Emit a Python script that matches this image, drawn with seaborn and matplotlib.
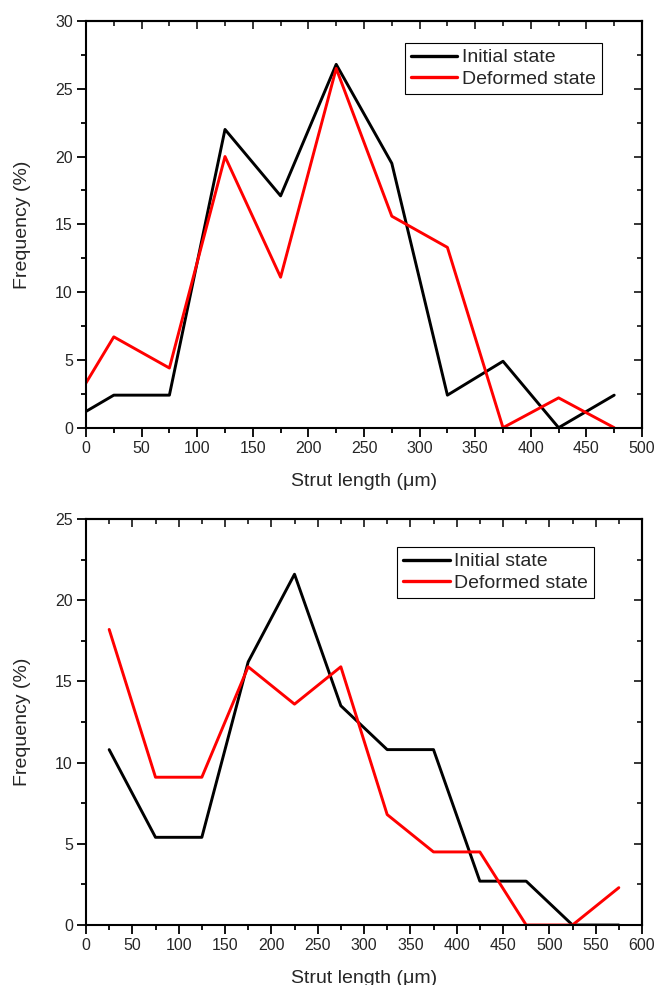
import pandas as pd
import matplotlib
matplotlib.use("Agg")
import matplotlib.pyplot as plt
import matplotlib.ticker as mtick
import seaborn as sns

# Data (strut length bins in um, frequency in %)
top_length = [0, 25, 75, 125, 175, 225, 275, 325, 375, 425, 475]
top_initial = [1.2, 2.4, 2.4, 22.0, 17.1, 26.8, 19.5, 2.4, 4.9, 0.0, 2.4]
top_deformed = [3.3, 6.7, 4.4, 20.0, 11.1, 26.5, 15.6, 13.3, 0.0, 2.2, 0.0]

bottom_length = [25, 75, 125, 175, 225, 275, 325, 375, 425, 475, 525, 575]
bottom_initial = [10.8, 5.4, 5.4, 16.2, 21.6, 13.5, 10.8, 10.8, 2.7, 2.7, 0.0, 0.0]
bottom_deformed = [18.2, 9.1, 9.1, 15.9, 13.6, 15.9, 6.8, 4.5, 4.5, 0.0, 0.0, 2.3]

states = ["Initial state", "Deformed state"]
colors = {"Initial state": "black", "Deformed state": "#ff0000"}

sns.set_theme(style="ticks")
plt.rcParams['font.family'] = ['Liberation Sans', 'DejaVu Sans']


def make_df(length, initial, deformed):
    a = pd.DataFrame({"length": length, "freq": initial, "state": states[0]})
    b = pd.DataFrame({"length": length, "freq": deformed, "state": states[1]})
    return pd.concat([a, b], ignore_index=True)


def style_axis(ax, xmax, ymax, legend_anchor):
    ax.set_xlim(0, xmax)
    ax.set_ylim(0, ymax)
    ax.xaxis.set_major_locator(mtick.MultipleLocator(50))
    ax.xaxis.set_minor_locator(mtick.MultipleLocator(25))
    ax.yaxis.set_major_locator(mtick.MultipleLocator(5))
    ax.yaxis.set_minor_locator(mtick.MultipleLocator(2.5))
    for side in ["top", "right", "bottom", "left"]:
        ax.spines[side].set_visible(True)
        ax.spines[side].set_linewidth(1.5)
        ax.spines[side].set_color("black")
    ax.tick_params(which="both", direction="out", top=False, right=False,
                   color="black", width=1.3)
    ax.tick_params(which="major", length=6.5, labelsize=11.5, pad=3)
    ax.tick_params(which="minor", length=3.6)
    # Origin style: mirrored top/right ticks point inward
    sec_x = ax.secondary_xaxis("top")
    sec_x.xaxis.set_major_locator(mtick.MultipleLocator(50))
    sec_x.xaxis.set_minor_locator(mtick.MultipleLocator(25))
    sec_x.tick_params(which="both", direction="in", labeltop=False, width=1.3)
    sec_x.tick_params(which="major", length=6)
    sec_x.tick_params(which="minor", length=3.5)
    sec_x.spines["top"].set_linewidth(1.5)
    sec_y = ax.secondary_yaxis("right")
    sec_y.yaxis.set_major_locator(mtick.MultipleLocator(5))
    sec_y.yaxis.set_minor_locator(mtick.MultipleLocator(2.5))
    sec_y.tick_params(which="both", direction="in", labelright=False, width=1.3)
    sec_y.tick_params(which="major", length=6)
    sec_y.tick_params(which="minor", length=3.5)
    sec_y.spines["right"].set_linewidth(1.5)

    ax.set_xlabel("Strut length (\u03bcm)", fontsize=14, labelpad=12)
    ax.set_ylabel("Frequency (%)", fontsize=14, labelpad=17)

    leg = ax.legend(loc="upper right", bbox_to_anchor=legend_anchor, fontsize=14,
                    frameon=True, fancybox=False, framealpha=1, edgecolor="black",
                    handlelength=2.4, handletextpad=0.25, borderpad=0.3,
                    labelspacing=0.2, borderaxespad=0)
    leg.get_frame().set_linewidth(0.8)
    for line in leg.get_lines():
        line.set_linewidth(2.4)


fig = plt.figure(figsize=(6.58, 9.85), dpi=100)
ax1 = fig.add_axes([0.1307, 0.5658, 0.845, 0.4129])
ax2 = fig.add_axes([0.1307, 0.0609, 0.845, 0.4122])

sns.lineplot(data=make_df(top_length, top_initial, top_deformed), x="length", y="freq",
             hue="state", hue_order=states, palette=colors, linewidth=2.1, ax=ax1)
style_axis(ax1, 500, 30, (0.928, 0.946))

sns.lineplot(data=make_df(bottom_length, bottom_initial, bottom_deformed), x="length", y="freq",
             hue="state", hue_order=states, palette=colors, linewidth=2.1, ax=ax2)
style_axis(ax2, 600, 25, (0.914, 0.931))

fig.savefig("out.png", dpi=100)
plt.close(fig)
